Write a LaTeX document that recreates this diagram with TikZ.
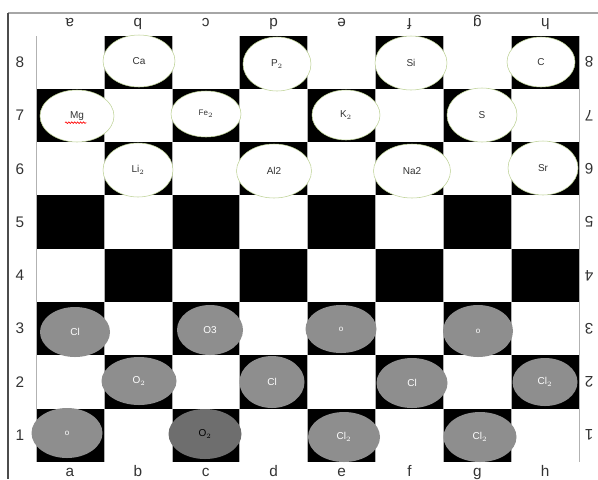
\documentclass[tikz,border=0pt]{standalone}
\usepackage{fontspec}
\setmainfont{Liberation Sans}
\usepackage{xcolor}
\usetikzlibrary{shapes.geometric,decorations.pathmorphing}
\definecolor{rim}{RGB}{190,210,150}
\definecolor{stone}{RGB}{142,142,142}
\definecolor{darkstone}{RGB}{110,110,110}
\tikzset{
  grd/.style={gray!60,line width=0.4pt},
  wpc/.style={ellipse,draw=rim,fill=white,inner sep=0pt,text=black!80,font=\fontsize{7.5}{8}\selectfont},
  gpc/.style={ellipse,fill=stone,inner sep=0pt,text=white,font=\fontsize{7.5}{8}\selectfont},
  dpc/.style={gpc,fill=darkstone,text=black},
  rk/.style={font=\fontsize{11.5}{12}\selectfont,text=black!80,inner sep=0pt},
  wav/.style={decorate,decoration={snake,amplitude=0.6pt,segment length=2.2pt},red,line width=0.5pt}
}
\newcommand{\pc}[6]{\node[#1,minimum width=#4pt,minimum height=#5pt] (#2) at (#3) {#6};}

\begin{document}
\begin{tikzpicture}[x=0.75pt,y=-0.75pt]
\useasboundingbox (0,0) rectangle (598,479);
\draw[gray!70,line width=1.1pt] (8,13) -- (598,13);
\draw[black!70,line width=1.2pt] (8,13) -- (8,479);
% board
\begin{scope}[shift={(36,35.5)},x=50.925pt,y=-39.975pt]
\fill[white] (0,0) rectangle (8,8);
\foreach \r in {1,...,8}
  \foreach \f in {1,3,5,7} {
    \pgfmathtruncatemacro{\ff}{\f+1-mod(\r,2)}
    \fill[black] (\ff-1,8-\r) rectangle (\ff,9-\r);
  }
\draw[grd,step=1] (0,0) grid (8,8);
\end{scope}
% ranks and files
\foreach \n [count=\i] in {a,...,h} {
  \node[rk,anchor=base] (bot\n) at ({36+67.9*(\i-0.5)},476) {\n};
  \node[rk,anchor=base,rotate=180] (top\n) at ({36+67.9*(\i-0.5)},18) {\n};
}
\foreach \r in {1,...,8} {
  \node[rk] (lft\r) at (20,{35.5+53.3*(8.5-\r)}) {\r};
  \node[rk,rotate=180] (rgt\r) at (589,{35.5+53.3*(8.5-\r)}) {\r};
}
% white pieces
\pc{wpc}{b8}{139,61}{54}{39}{Ca}
\pc{wpc}{d8}{277,64}{51}{40.5}{P$_2$}
\pc{wpc}{f8}{411,63}{54}{40.5}{Si}
\pc{wpc}{h8}{541,62}{51}{37.5}{C}
\pc{wpc}{a7}{77,116}{55.5}{39}{Mg}
\pc{wpc}{c7}{206,114}{52.5}{34.5}{\fontsize{6}{7}\selectfont Fe$_2$}
\pc{wpc}{e7}{346,115}{51}{37.5}{K$_2$}
\pc{wpc}{g7}{482,115}{52.5}{40.5}{S}
\pc{wpc}{b6}{138,170}{52.5}{40.5}{Li$_2$}
\pc{wpc}{d6}{274,171}{56.25}{40.5}{Al2}
\pc{wpc}{f6}{412,171}{57.75}{40.5}{Na2}
\pc{wpc}{h6}{543,168}{52.5}{40.5}{Sr}
\draw[wav] ([xshift=-9pt,yshift=-5pt]a7.center) -- ([xshift=7pt,yshift=-5pt]a7.center);
% grey pieces
\pc{gpc}{a3}{75,332}{52.5}{37.5}{Cl}
\pc{gpc}{c3}{210,330}{49.5}{37.5}{O3}
\pc{gpc}{e3}{341,329}{53.25}{36}{\fontsize{6}{7}\selectfont o}
\pc{gpc}{g3}{478,331}{52.5}{39}{\fontsize{6}{7}\selectfont o}
\pc{gpc}{b2}{139,381}{56.25}{36}{O$_2$}
\pc{gpc}{d2}{272,382}{48.75}{39}{Cl}
\pc{gpc}{f2}{412,383}{53.25}{37.5}{Cl}
\pc{gpc}{h2}{545,382}{48.75}{36}{Cl$_2$}
\pc{gpc}{a1}{67,433}{53.25}{37.5}{\fontsize{6}{7}\selectfont o}
\pc{dpc}{c1}{205,434}{54.75}{37.5}{O$_2$}
\pc{gpc}{e1}{344,437}{54}{37.5}{Cl$_2$}
\pc{gpc}{g1}{480,437}{54.75}{37.5}{Cl$_2$}
\end{tikzpicture}
\end{document}
